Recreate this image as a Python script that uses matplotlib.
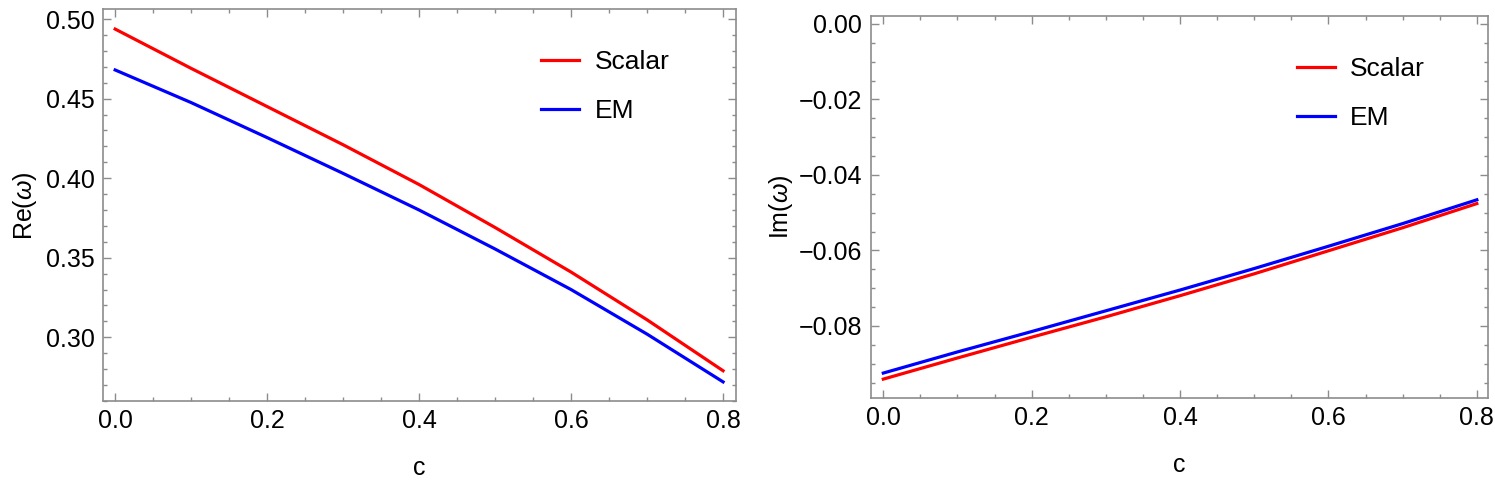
import matplotlib
matplotlib.use('Agg')
import matplotlib.pyplot as plt
from matplotlib.ticker import MultipleLocator, FuncFormatter

plt.rcParams['font.family'] = ['Liberation Sans', 'DejaVu Sans']
plt.rcParams['mathtext.fontset'] = 'custom'
plt.rcParams['mathtext.rm'] = 'Liberation Sans'
plt.rcParams['mathtext.it'] = 'Liberation Sans:italic'

# data
c = [0.0, 0.1, 0.2, 0.3, 0.4, 0.5, 0.6, 0.7, 0.8]
re_scalar = [0.4937, 0.469, 0.445, 0.421, 0.396, 0.369, 0.341, 0.311, 0.279]
re_em = [0.468, 0.4475, 0.4255, 0.403, 0.380, 0.3555, 0.330, 0.302, 0.272]
im_scalar = [-0.0941, -0.0885, -0.0830, -0.0776, -0.0720, -0.0662, -0.0601, -0.0540, -0.0476]
im_em = [-0.0925, -0.0869, -0.0815, -0.0760, -0.0705, -0.0648, -0.0589, -0.0529, -0.0466]

frame_col = '#8c8c8c'
fs = 18
fs_leg = 19


def fmt(nd):
    return FuncFormatter(lambda v, p: f'{v:.{nd}f}'.replace('-', '\u2212'))


fig = plt.figure(figsize=(14.95, 4.92), dpi=100)
ax1 = fig.add_axes([0.0689, 0.1850, 0.4234, 0.7957])
ax2 = fig.add_axes([0.5824, 0.1911, 0.4129, 0.7764])


def style(ax, ymaj, ymin):
    for s in ax.spines.values():
        s.set_color(frame_col)
        s.set_linewidth(1.2)
    ax.xaxis.set_major_locator(MultipleLocator(0.2))
    ax.xaxis.set_minor_locator(MultipleLocator(0.05))
    ax.yaxis.set_major_locator(MultipleLocator(ymaj))
    ax.yaxis.set_minor_locator(MultipleLocator(ymin))
    ax.tick_params(which='both', direction='in', top=True, right=True,
                   color=frame_col, labelsize=fs, width=1.0)
    ax.tick_params(which='major', length=6, pad=6)
    ax.tick_params(which='minor', length=3)
    ax.xaxis.set_major_formatter(fmt(1))
    ax.yaxis.set_major_formatter(fmt(2))


ax1.plot(c, re_scalar, color='#ff0000', lw=2.3, label='Scalar')
ax1.plot(c, re_em, color='#0000ff', lw=2.3, label='EM')
ax1.set_xlim(-0.016, 0.817)
ax1.set_ylim(0.26, 0.506)
style(ax1, 0.05, 0.01)
ax1.set_xlabel('c', fontsize=fs, labelpad=16)
ax1.set_ylabel(r'Re($\omega$)', fontsize=fs, labelpad=5)
ax1.legend(loc='upper left', bbox_to_anchor=(0.655, 0.957), frameon=False,
           fontsize=fs_leg, handlelength=1.44, handletextpad=0.57, labelspacing=0.95)

ax2.plot(c, im_scalar, color='#ff0000', lw=2.3, label='Scalar')
ax2.plot(c, im_em, color='#0000ff', lw=2.3, label='EM')
ax2.set_xlim(-0.017, 0.815)
ax2.set_ylim(-0.0991, 0.0021)
style(ax2, 0.02, 0.005)
ax2.set_xlabel('c', fontsize=fs, labelpad=16)
ax2.set_ylabel(r'Im($\omega$)', fontsize=fs, labelpad=3)
ax2.legend(loc='upper left', bbox_to_anchor=(0.652, 0.955), frameon=False,
           fontsize=fs_leg, handlelength=1.44, handletextpad=0.57, labelspacing=0.95)

fig.savefig('out.png', dpi=100)
